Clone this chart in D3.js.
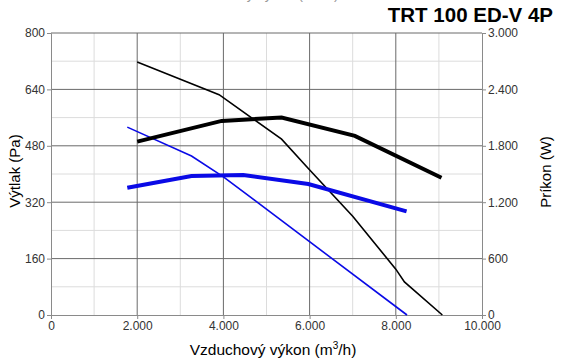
<!DOCTYPE html>
<html lang="cs">
  <head>
    <meta charset="UTF-8" />
    <script src="https://d3js.org/d3.v7.min.js"></script>
    <title>TRT 100 ED-V 4P</title>
    <style>
      body { margin: 0; background: #fff; }
      svg { font-family: "Liberation Sans", Arial, sans-serif; }
    </style>
  </head>
  <body>
    <div id="chart"></div>
    <script>
    // data (airflow m3/h, pressure Pa, power W)
    var xTicks = [0, 2000, 4000, 6000, 8000, 10000];
    var yTicksLeft = [0, 160, 320, 480, 640, 800];
    var yTicksRight = [0, 600, 1200, 1800, 2400, 3000];

    var pressBlackX = [2000, 3900, 5350, 5960, 7000, 8000, 8200, 9080];
    var pressBlackY = [718, 625, 499, 417, 280, 130, 94, 0];
    var powerBlackX = [2000, 3960, 5350, 7050, 9060];
    var powerBlackY = [1844, 2065, 2100, 1905, 1460];

    var pressBlueX = [1770, 3260, 4000, 8260];
    var pressBlueY = [533, 451, 392, 0];
    var powerBlueX = [1770, 3260, 4460, 5970, 8250];
    var powerBlueY = [1354, 1479, 1489, 1393, 1102];

    var W = 561, H = 360;
    var margin = {top: 33, right: 79, bottom: 45, left: 51},
        width = W - margin.left - margin.right,
        height = H - margin.top - margin.bottom;

    var loc = d3.formatLocale({decimal: ",", thousands: ".", grouping: [3], currency: ["", ""]});
    var fmt = loc.format(",d");

    var svg = d3.select("#chart").append("svg")
        .attr("width", W).attr("height", H);

    var g = svg.append("g")
        .attr("transform", "translate(" + margin.left + "," + margin.top + ")");

    var x = d3.scaleLinear().domain([0, 10000]).range([0, width]);
    var yL = d3.scaleLinear().domain([0, 800]).range([height, 0]);
    var yR = d3.scaleLinear().domain([0, 3000]).range([height, 0]);

    // minor grid
    g.append("g").selectAll("line")
      .data(d3.range(1000, 10000, 2000))
      .enter().append("line")
        .attr("x1", function(d) { return x(d); }).attr("x2", function(d) { return x(d); })
        .attr("y1", 0).attr("y2", height)
        .attr("stroke", "#dcdcdc");
    g.append("g").selectAll("line")
      .data(d3.range(80, 800, 160))
      .enter().append("line")
        .attr("x1", 0).attr("x2", width)
        .attr("y1", function(d) { return yL(d); }).attr("y2", function(d) { return yL(d); })
        .attr("stroke", "#dcdcdc");

    // major grid
    g.append("g").selectAll("line")
      .data(xTicks.slice(1, -1))
      .enter().append("line")
        .attr("x1", function(d) { return x(d); }).attr("x2", function(d) { return x(d); })
        .attr("y1", 0).attr("y2", height)
        .attr("stroke", "#6a6a6a");
    g.append("g").selectAll("line")
      .data(yTicksLeft.slice(1))
      .enter().append("line")
        .attr("x1", 0).attr("x2", width)
        .attr("y1", function(d) { return yL(d); }).attr("y2", function(d) { return yL(d); })
        .attr("stroke", "#6a6a6a");

    // axes
    var xAxis = g.append("g")
      .attr("transform", "translate(0," + height + ")")
      .call(d3.axisBottom(x).tickValues(xTicks).tickFormat(fmt).tickSize(4).tickPadding(2));
    var yAxisL = g.append("g")
      .call(d3.axisLeft(yL).tickValues(yTicksLeft).tickFormat(fmt).tickSize(4).tickPadding(2));
    var yAxisR = g.append("g")
      .attr("transform", "translate(" + width + ",0)")
      .call(d3.axisRight(yR).tickValues(yTicksRight).tickFormat(fmt).tickSize(4).tickPadding(2));

    [xAxis, yAxisL, yAxisR].forEach(function(a) {
      a.select(".domain").attr("stroke", "#8a8a8a");
      a.selectAll(".tick line").attr("stroke", "#8a8a8a");
      a.selectAll("text").attr("fill", "#333").style("font-size", "12px")
        .style("font-family", "'Liberation Sans', Arial, sans-serif");
    });

    // curves
    function pts(xs, ys) { return xs.map(function(v, i) { return [v, ys[i]]; }); }
    var lineL = d3.line().x(function(d) { return x(d[0]); }).y(function(d) { return yL(d[1]); });
    var lineR = d3.line().x(function(d) { return x(d[0]); }).y(function(d) { return yR(d[1]); });

    g.append("path").datum(pts(pressBlueX, pressBlueY))
      .attr("fill", "none").attr("stroke", "#0a0ae6").attr("stroke-width", 1.6).attr("d", lineL);
    g.append("path").datum(pts(pressBlackX, pressBlackY))
      .attr("fill", "none").attr("stroke", "#000").attr("stroke-width", 1.6).attr("d", lineL);
    g.append("path").datum(pts(powerBlueX, powerBlueY))
      .attr("fill", "none").attr("stroke", "#0a0ae6").attr("stroke-width", 4).attr("d", lineR);
    g.append("path").datum(pts(powerBlackX, powerBlackY))
      .attr("fill", "none").attr("stroke", "#000").attr("stroke-width", 4).attr("d", lineR);

    // labels (the top one is cut off by the page edge in the original too)
    svg.append("text")
      .attr("x", 262).attr("y", -1)
      .attr("text-anchor", "middle")
      .style("font-size", "14px").attr("fill", "#999")
      .text("Vzduchový výkon (m3/h)");

    svg.append("text")
      .attr("x", 553).attr("y", 22)
      .attr("text-anchor", "end")
      .style("font-size", "20.5px").style("font-weight", "bold")
      .text("TRT 100 ED-V 4P");

    svg.append("text")
      .attr("transform", "translate(20,171) rotate(-90)")
      .attr("text-anchor", "middle")
      .style("font-size", "15px")
      .text("Výtlak (Pa)");

    svg.append("text")
      .attr("transform", "translate(551,172) rotate(-90)")
      .attr("text-anchor", "middle")
      .style("font-size", "15px")
      .text("Príkon (W)");

    var xl = svg.append("text")
      .attr("x", 273).attr("y", 355)
      .attr("text-anchor", "middle")
      .style("font-size", "15.5px");
    xl.append("tspan").text("Vzduchový výkon (m");
    xl.append("tspan").attr("dy", -6).style("font-size", "10px").text("3");
    xl.append("tspan").attr("dy", 6).text("/h)");
    </script>
  </body>
</html>
